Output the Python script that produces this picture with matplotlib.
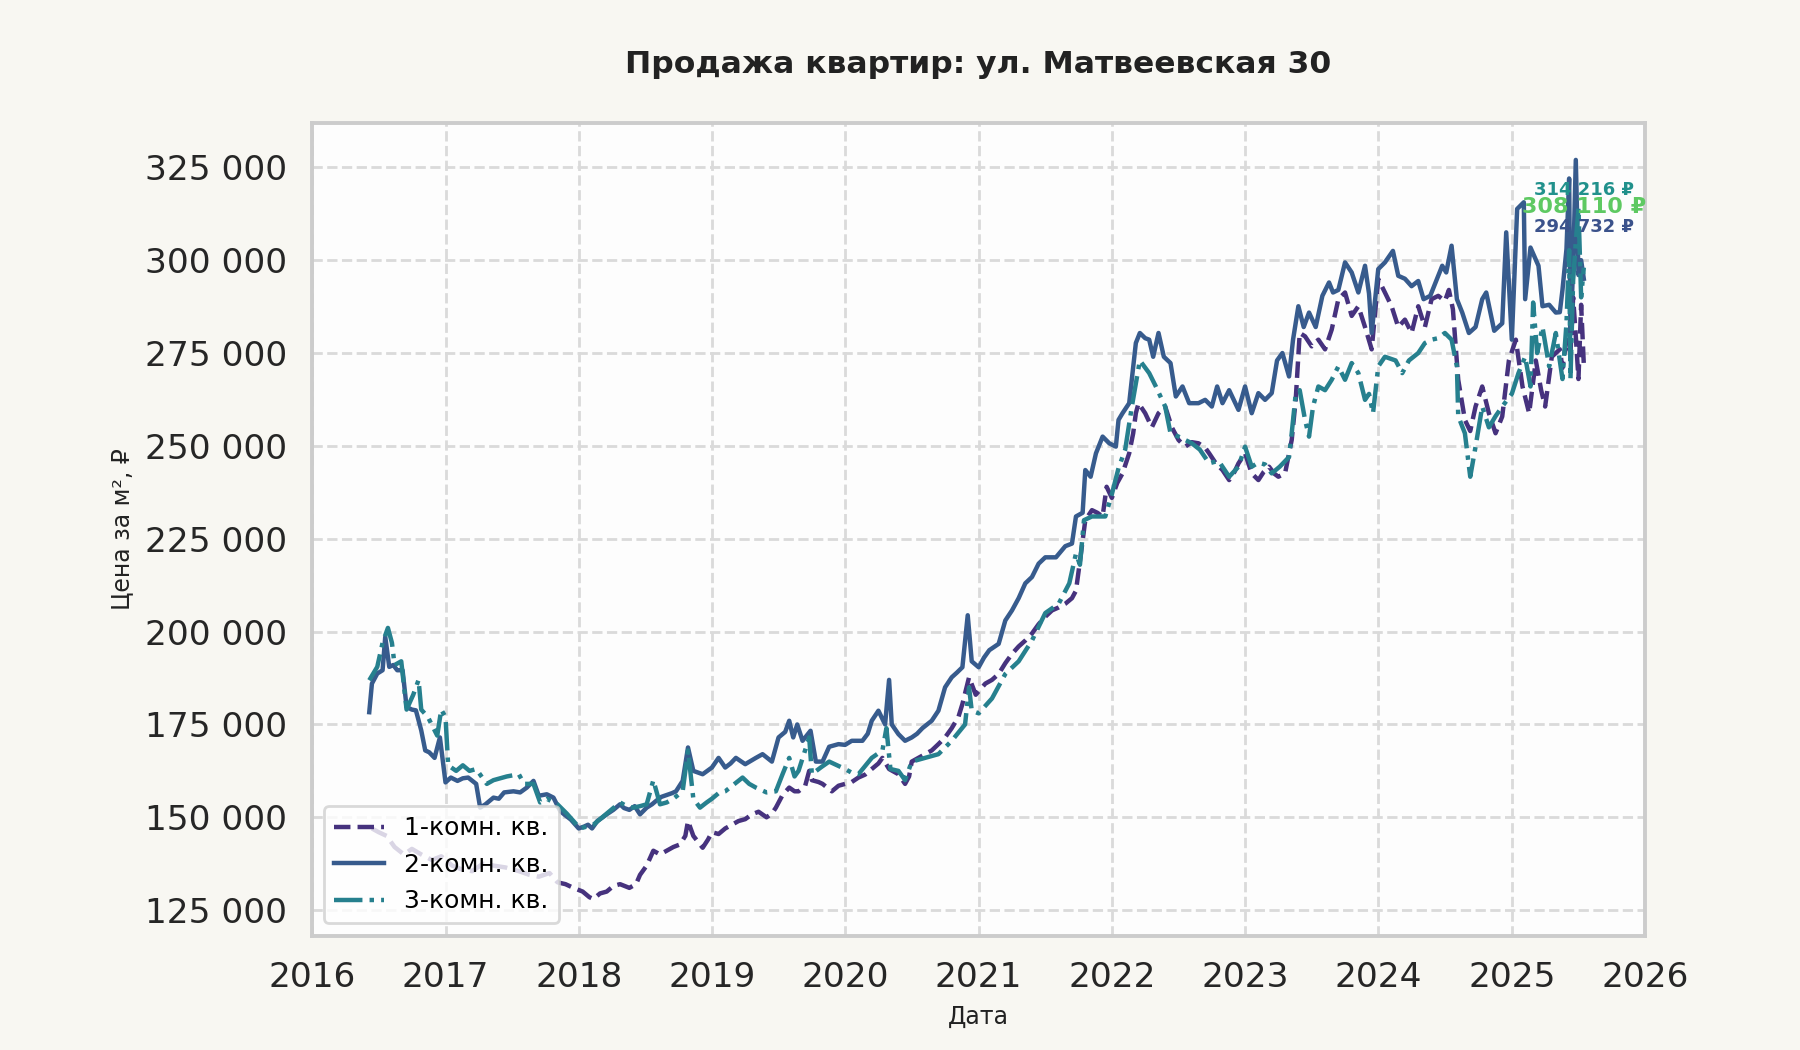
import pandas as pd
import matplotlib
matplotlib.use("Agg")
import matplotlib.pyplot as plt
import matplotlib.dates as mdates
from matplotlib.ticker import FuncFormatter, MultipleLocator

# prices in thousands of rubles per m2, time as fractional year
one_room_t = [2016.45, 2016.5, 2016.56, 2016.62, 2016.69, 2016.75, 2016.82, 2016.9, 2016.97, 2017.05,
              2017.12, 2017.2, 2017.28, 2017.36, 2017.45, 2017.55, 2017.63, 2017.7, 2017.78, 2017.84,
              2017.9, 2017.96, 2018.03, 2018.08, 2018.11, 2018.16, 2018.21, 2018.26, 2018.31, 2018.38,
              2018.43, 2018.46, 2018.51, 2018.56, 2018.61, 2018.66, 2018.71, 2018.76, 2018.8, 2018.82,
              2018.86, 2018.93, 2018.97, 2019.0, 2019.05, 2019.1, 2019.15, 2019.2, 2019.25, 2019.3,
              2019.35, 2019.41, 2019.45, 2019.48, 2019.53, 2019.58, 2019.62, 2019.65, 2019.7, 2019.73,
              2019.75, 2019.8, 2019.83, 2019.9, 2019.95, 2020.0, 2020.05, 2020.1, 2020.15, 2020.2,
              2020.25, 2020.28, 2020.33, 2020.4, 2020.45, 2020.48, 2020.5, 2020.55, 2020.6, 2020.65,
              2020.7, 2020.75, 2020.8, 2020.85, 2020.88, 2020.93, 2020.98, 2021.05, 2021.1, 2021.15,
              2021.2, 2021.25, 2021.3, 2021.35, 2021.4, 2021.45, 2021.5, 2021.55, 2021.6, 2021.65,
              2021.7, 2021.73, 2021.76, 2021.8, 2021.85, 2021.89, 2021.93, 2021.96, 2022.0, 2022.04,
              2022.08, 2022.13, 2022.16, 2022.18, 2022.2, 2022.25, 2022.3, 2022.35, 2022.4, 2022.45,
              2022.5, 2022.55, 2022.6, 2022.65, 2022.7, 2022.73, 2022.78, 2022.83, 2022.88, 2022.92,
              2022.95, 2023.0, 2023.05, 2023.1, 2023.14, 2023.18, 2023.22, 2023.25, 2023.3, 2023.35,
              2023.38, 2023.41, 2023.45, 2023.5, 2023.55, 2023.6, 2023.65, 2023.7, 2023.75, 2023.8,
              2023.85, 2023.9, 2023.95, 2024.0, 2024.05, 2024.1, 2024.15, 2024.2, 2024.25, 2024.3,
              2024.35, 2024.4, 2024.45, 2024.5, 2024.53, 2024.56, 2024.6, 2024.65, 2024.69, 2024.73,
              2024.78, 2024.83, 2024.88, 2024.93, 2024.98, 2025.03, 2025.08, 2025.13, 2025.18, 2025.22,
              2025.25, 2025.3, 2025.36, 2025.38, 2025.41, 2025.44, 2025.46, 2025.48, 2025.5, 2025.52,
              2025.54]
one_room_v = [147.0, 146.0, 145.0, 142.0, 140.0, 141.5, 140.0, 138.5, 139.5, 137.0,
              136.0, 135.5, 137.5, 137.0, 136.5, 135.5, 134.5, 134.0, 135.0, 132.5,
              132.0, 131.0, 130.0, 128.5, 128.0, 129.5, 130.0, 131.5, 132.0, 131.0,
              132.0, 134.5, 137.0, 141.0, 140.0, 141.0, 142.0, 142.7, 145.0, 149.0,
              145.0, 141.8, 144.0, 146.0, 145.5, 147.0, 148.0, 149.0, 149.5, 150.8,
              151.5, 150.0, 151.0, 152.6, 156.0, 158.0, 157.0, 157.0, 158.5, 162.5,
              160.0, 159.5, 159.0, 157.0, 158.5, 159.0, 159.5, 160.7, 161.5, 163.0,
              164.5, 166.0, 163.0, 161.6, 159.0, 161.0, 165.0, 166.0, 167.0, 168.0,
              169.7, 171.5, 174.0, 177.0, 180.5, 187.7, 183.0, 186.0, 187.0, 188.6,
              191.5, 194.0, 196.0, 197.6, 199.5, 202.0, 204.0, 205.7, 206.5, 207.5,
              209.0, 211.0, 219.0, 230.0, 232.7, 232.0, 231.0, 239.0, 236.0, 240.0,
              242.6, 248.0, 253.4, 258.8, 261.5, 258.8, 255.0, 258.8, 260.6, 255.0,
              251.6, 249.8, 251.0, 250.7, 249.5, 248.0, 245.3, 243.5, 240.8, 243.0,
              245.3, 248.0, 242.6, 240.8, 243.0, 244.4, 242.5, 241.7, 242.6, 251.6,
              262.4, 280.4, 279.5, 276.8, 278.6, 276.0, 281.3, 289.5, 291.3, 285.0,
              287.6, 282.0, 276.0, 294.9, 291.3, 287.6, 282.0, 284.0, 280.4, 287.6,
              282.0, 289.5, 290.4, 289.0, 292.0, 286.8, 267.8, 257.0, 254.0, 260.6,
              266.0, 258.8, 253.4, 257.9, 273.0, 278.6, 266.0, 258.8, 273.0, 265.0,
              260.6, 274.0, 276.0, 271.0, 278.6, 275.0, 290.0, 279.5, 268.0, 288.0,
              272.0]

two_room_t = [2016.43, 2016.45, 2016.49, 2016.53, 2016.55, 2016.58, 2016.61, 2016.64, 2016.68, 2016.71,
              2016.75, 2016.78, 2016.82, 2016.85, 2016.88, 2016.92, 2016.96, 2017.0, 2017.04, 2017.09,
              2017.13, 2017.17, 2017.23, 2017.26, 2017.3, 2017.36, 2017.4, 2017.44, 2017.51, 2017.56,
              2017.61, 2017.66, 2017.7, 2017.76, 2017.81, 2017.86, 2017.9, 2017.94, 2018.0, 2018.04,
              2018.07, 2018.1, 2018.14, 2018.18, 2018.21, 2018.26, 2018.31, 2018.34, 2018.38, 2018.42,
              2018.46, 2018.51, 2018.55, 2018.58, 2018.62, 2018.66, 2018.7, 2018.73, 2018.78, 2018.82,
              2018.86, 2018.9, 2018.93, 2019.0, 2019.05, 2019.1, 2019.14, 2019.18, 2019.25, 2019.33,
              2019.38, 2019.45, 2019.5, 2019.55, 2019.58, 2019.61, 2019.64, 2019.68, 2019.74, 2019.78,
              2019.83, 2019.88, 2019.95, 2020.0, 2020.05, 2020.13, 2020.17, 2020.2, 2020.25, 2020.3,
              2020.33, 2020.35, 2020.4, 2020.45, 2020.5, 2020.54, 2020.58, 2020.65, 2020.7, 2020.75,
              2020.8, 2020.84, 2020.88, 2020.92, 2020.95, 2021.0, 2021.04, 2021.08, 2021.15, 2021.2,
              2021.25, 2021.3, 2021.35, 2021.4, 2021.45, 2021.5, 2021.58, 2021.65, 2021.7, 2021.73,
              2021.78, 2021.8, 2021.84, 2021.88, 2021.93, 2021.98, 2022.03, 2022.05, 2022.08, 2022.13,
              2022.18, 2022.21, 2022.25, 2022.28, 2022.31, 2022.35, 2022.39, 2022.44, 2022.48, 2022.53,
              2022.58, 2022.65, 2022.7, 2022.75, 2022.79, 2022.83, 2022.88, 2022.95, 2023.0, 2023.05,
              2023.1, 2023.15, 2023.2, 2023.24, 2023.28, 2023.33, 2023.36, 2023.4, 2023.44, 2023.48,
              2023.53, 2023.58, 2023.63, 2023.66, 2023.7, 2023.75, 2023.8, 2023.85, 2023.9, 2023.93,
              2023.95, 2024.0, 2024.05, 2024.11, 2024.15, 2024.2, 2024.25, 2024.3, 2024.34, 2024.39,
              2024.43, 2024.48, 2024.51, 2024.55, 2024.59, 2024.63, 2024.68, 2024.73, 2024.78, 2024.81,
              2024.87, 2024.93, 2024.96, 2025.0, 2025.04, 2025.09, 2025.1, 2025.14, 2025.2, 2025.23,
              2025.28, 2025.33, 2025.36, 2025.38, 2025.41, 2025.43, 2025.44, 2025.46, 2025.48, 2025.5,
              2025.52, 2025.54]
two_room_v = [178.3, 186.0, 188.7, 189.6, 198.6, 190.5, 191.0, 189.6, 189.6, 179.7,
              179.0, 178.8, 173.4, 168.0, 167.5, 166.0, 171.5, 159.4, 160.7, 159.8,
              160.5, 160.7, 159.0, 152.6, 153.5, 155.3, 155.0, 156.7, 157.0, 156.7,
              158.0, 159.8, 155.8, 156.2, 155.3, 151.7, 150.5, 149.4, 147.0, 147.5,
              148.0, 147.0, 149.0, 150.0, 150.8, 152.0, 153.5, 152.5, 152.0, 153.0,
              150.8, 152.6, 153.5, 154.4, 155.5, 156.0, 156.5, 157.0, 159.8, 168.8,
              162.5, 162.0, 161.6, 163.4, 166.0, 163.4, 164.5, 166.0, 164.3, 166.0,
              167.0, 165.0, 171.5, 173.0, 176.0, 171.5, 175.0, 170.6, 173.3, 165.0,
              165.0, 169.0, 169.7, 169.5, 170.6, 170.6, 172.5, 176.0, 178.7, 175.0,
              187.0, 175.0, 172.4, 170.6, 171.5, 172.5, 174.0, 176.0, 178.7, 185.0,
              187.7, 189.0, 190.4, 204.4, 192.0, 190.4, 193.0, 195.0, 196.7, 203.0,
              205.7, 209.0, 213.0, 214.7, 218.3, 220.0, 220.0, 223.0, 223.7, 231.0,
              232.0, 243.5, 241.7, 248.0, 252.5, 250.7, 249.8, 257.0, 258.8, 261.5,
              277.7, 280.4, 279.0, 278.6, 274.0, 280.4, 274.0, 272.3, 263.3, 266.0,
              261.5, 261.5, 262.4, 260.6, 266.0, 261.5, 265.0, 259.7, 266.0, 258.8,
              264.2, 262.4, 264.2, 273.0, 275.0, 268.7, 278.6, 287.6, 282.0, 285.9,
              282.0, 290.4, 294.0, 291.3, 292.0, 299.4, 296.7, 291.3, 298.5, 291.0,
              280.4, 297.6, 299.4, 302.5, 295.8, 295.0, 293.0, 294.4, 289.5, 290.4,
              294.0, 298.5, 296.7, 303.9, 289.5, 285.9, 280.4, 282.0, 289.5, 291.3,
              281.0, 283.0, 307.5, 278.6, 313.8, 315.6, 289.5, 303.4, 298.5, 287.6,
              288.0, 285.9, 286.0, 292.0, 303.0, 322.0, 280.0, 298.0, 327.0, 296.0,
              300.0, 295.0]

three_room_t = [2016.43, 2016.49, 2016.53, 2016.57, 2016.6, 2016.62, 2016.67, 2016.71, 2016.76, 2016.8,
                2016.82, 2016.87, 2016.94, 2016.97, 2017.0, 2017.02, 2017.08, 2017.13, 2017.18, 2017.23,
                2017.31, 2017.36, 2017.41, 2017.46, 2017.55, 2017.59, 2017.66, 2017.71, 2017.76, 2017.84,
                2017.91, 2017.96, 2018.01, 2018.06, 2018.11, 2018.16, 2018.21, 2018.26, 2018.31, 2018.36,
                2018.41, 2018.46, 2018.51, 2018.56, 2018.61, 2018.66, 2018.71, 2018.78, 2018.82, 2018.86,
                2018.91, 2018.96, 2019.0, 2019.05, 2019.1, 2019.17, 2019.23, 2019.28, 2019.33, 2019.41,
                2019.48, 2019.53, 2019.58, 2019.62, 2019.65, 2019.73, 2019.75, 2019.82, 2019.88, 2020.0,
                2020.05, 2020.1, 2020.2, 2020.28, 2020.31, 2020.34, 2020.4, 2020.45, 2020.5, 2020.6,
                2020.7, 2020.8, 2020.9, 2020.93, 2020.95, 2021.0, 2021.1, 2021.2, 2021.3, 2021.4,
                2021.5, 2021.6, 2021.68, 2021.73, 2021.76, 2021.79, 2021.85, 2021.95, 2022.0, 2022.05,
                2022.1, 2022.15, 2022.21, 2022.28, 2022.33, 2022.4, 2022.44, 2022.5, 2022.6, 2022.66,
                2022.73, 2022.8, 2022.88, 2022.95, 2023.0, 2023.05, 2023.1, 2023.15, 2023.2, 2023.26,
                2023.33, 2023.35, 2023.38, 2023.41, 2023.45, 2023.48, 2023.51, 2023.55, 2023.6, 2023.65,
                2023.7, 2023.75, 2023.8, 2023.85, 2023.9, 2023.93, 2023.96, 2024.0, 2024.05, 2024.13,
                2024.18, 2024.23, 2024.3, 2024.35, 2024.4, 2024.45, 2024.5, 2024.55, 2024.59, 2024.6,
                2024.65, 2024.69, 2024.73, 2024.78, 2024.83, 2024.88, 2024.93, 2025.0, 2025.05, 2025.1,
                2025.14, 2025.16, 2025.19, 2025.23, 2025.28, 2025.33, 2025.38, 2025.41, 2025.43, 2025.44,
                2025.46, 2025.48, 2025.5, 2025.52, 2025.54]
three_room_v = [186.9, 190.5, 197.0, 201.0, 197.0, 191.0, 192.0, 179.0, 183.0, 187.0,
                179.0, 177.0, 172.0, 179.0, 177.0, 164.0, 162.5, 164.0, 162.5, 163.0,
                159.0, 160.0, 160.5, 161.0, 161.6, 159.0, 159.0, 154.0, 155.0, 153.5,
                151.0, 149.0, 147.0, 147.5, 148.0, 149.5, 151.0, 152.5, 154.0, 153.0,
                152.6, 153.0, 153.5, 160.0, 153.5, 154.0, 155.0, 157.0, 168.0, 155.0,
                152.6, 154.0, 155.0, 156.5, 157.0, 159.0, 160.7, 159.0, 158.0, 156.7,
                157.0, 161.6, 166.0, 161.0, 162.5, 171.5, 161.6, 163.5, 165.0, 163.0,
                162.0, 161.6, 166.0, 168.0, 174.0, 163.0, 162.5, 160.0, 165.0, 166.0,
                167.0, 170.6, 175.0, 185.0, 178.7, 178.0, 182.0, 188.6, 192.0, 197.6,
                205.0, 207.5, 213.0, 221.0, 218.0, 230.0, 231.0, 231.0, 237.0, 244.0,
                249.0, 260.6, 273.0, 269.6, 266.0, 260.6, 253.4, 252.5, 250.7, 249.0,
                245.3, 246.0, 241.7, 244.4, 249.8, 244.4, 245.5, 245.0, 242.6, 244.4,
                247.0, 253.4, 264.0, 265.0, 257.0, 252.5, 260.6, 266.0, 265.0, 267.8,
                271.4, 267.8, 272.3, 269.6, 262.4, 264.0, 258.8, 271.4, 274.0, 273.0,
                269.6, 273.0, 275.0, 277.7, 278.6, 279.0, 280.4, 278.6, 271.4, 258.0,
                253.4, 241.7, 249.8, 260.6, 255.0, 258.0, 260.6, 264.0, 269.6, 274.0,
                266.0, 288.6, 275.0, 282.0, 271.4, 280.4, 268.0, 283.0, 302.7, 268.0,
                294.6, 305.0, 314.0, 290.0, 298.0]

series_labels = ["1-комн. кв.", "2-комн. кв.", "3-комн. кв."]
series_colors = ["#46327e", "#375b8d", "#26808e"]
series_styles = ["--", "-", "-."]

end_labels = ["314 216 ₽", "308 110 ₽", "294 732 ₽"]
end_label_y = [319.0, 314.2, 309.0]
end_label_colors = ["#21918c", "#5ec962", "#3b528b"]
end_label_sizes = [6.5, 8, 6.5]


def to_dates(years):
    return [pd.Timestamp(int(y), 1, 1) + pd.Timedelta(days=(y - int(y)) * 365.25) for y in years]


plt.rcParams['font.family'] = ['DejaVu Sans']
fig = plt.figure(figsize=(9, 5.25), dpi=200, facecolor="#f8f7f2")
ax = fig.add_axes([0.1733, 0.1086, 0.7406, 0.7743])
ax.set_facecolor("#fdfdfd")

all_t = [one_room_t, two_room_t, three_room_t]
all_v = [one_room_v, two_room_v, three_room_v]
for t, v, lab, col, ls in zip(all_t, all_v, series_labels, series_colors, series_styles):
    ax.plot(to_dates(t), [x * 1000 for x in v], ls, color=col, lw=1.6, label=lab)

last_date = to_dates([two_room_t[-1]])[0]
for txt, y, col, fs in zip(end_labels, end_label_y, end_label_colors, end_label_sizes):
    ax.text(last_date, y * 1000, txt, color=col, fontsize=fs, fontweight="bold",
            ha="center", va="center")

ax.set_xlim(pd.Timestamp(2016, 1, 1), pd.Timestamp(2026, 1, 1))
ax.xaxis.set_major_locator(mdates.YearLocator())
ax.xaxis.set_major_formatter(mdates.DateFormatter("%Y"))
ax.yaxis.set_major_locator(MultipleLocator(25000))
ax.yaxis.set_major_formatter(FuncFormatter(lambda v, p: f"{int(v):,}".replace(",", " ")))

ax.grid(True, ls="--", color="#dadada", lw=1.0)
ax.set_axisbelow(True)
for sp in ax.spines.values():
    sp.set_color("#cccccc")
    sp.set_linewidth(1.4)
ax.tick_params(length=0, labelsize=12.4, labelcolor="#262626", pad=9)

ax.set_title("Продажа квартир: ул. Матвеевская 30", fontsize=11.3, fontweight="bold",
             color="#222222", pad=18)
ax.set_xlabel("Дата", fontsize=8.5, color="#222222")
ax.set_ylabel("Цена за м², ₽", fontsize=8.5, color="#222222")

leg = ax.legend(loc="lower left", fontsize=9, frameon=True, framealpha=0.8,
                edgecolor="#d0d0d0", facecolor="white")

fig.savefig("out.png", dpi=200, facecolor=fig.get_facecolor())
